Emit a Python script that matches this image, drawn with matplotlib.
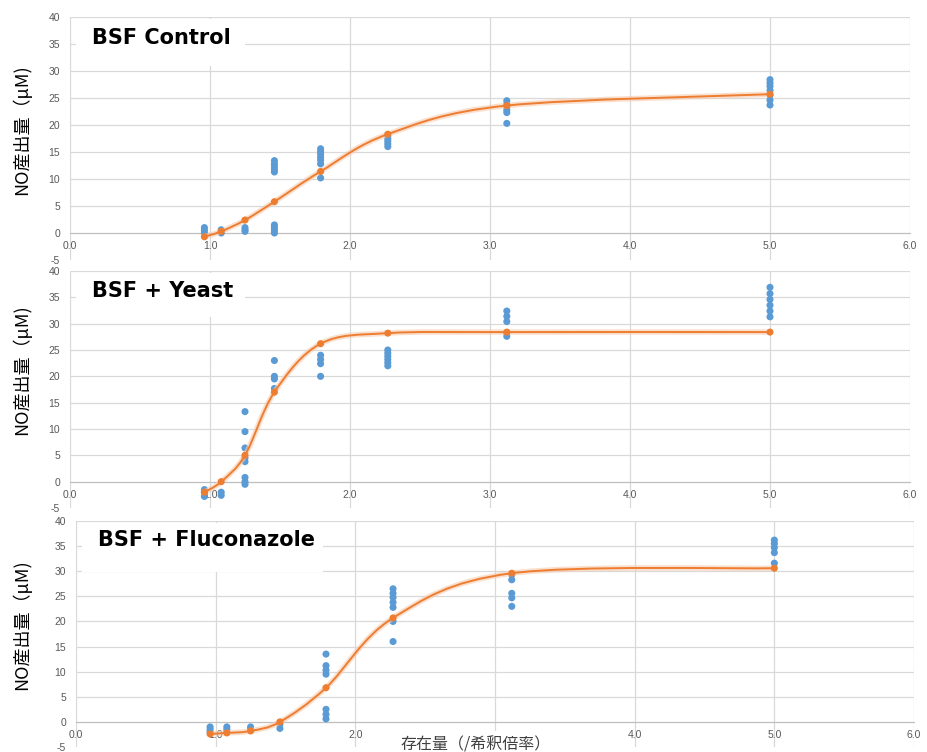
import numpy as np
import matplotlib
matplotlib.use("Agg")
import matplotlib.pyplot as plt
from matplotlib.path import Path
from matplotlib.patches import PathPatch, Rectangle

plt.rcParams['font.family'] = ['Noto Sans CJK JP', 'DejaVu Sans']

# --- data ----------------------------------------------------------------
x_vals = [0.96, 1.08, 1.25, 1.46, 1.79, 2.27, 3.12, 5.0]

titles = ["BSF Control", "BSF + Yeast", "BSF + Fluconazole"]

ctrl_pts = [[0.0, 0.5, 1.0],
            [0.0, 0.3, 0.6],
            [0.3, 0.6, 1.0],
            [0.0, 0.5, 1.0, 1.5, 11.3, 11.8, 12.3, 12.8, 13.4],
            [10.2, 12.8, 13.5, 14.0, 14.6, 15.1, 15.6],
            [16.0, 16.5, 17.0, 17.5, 18.0],
            [20.3, 22.3, 22.8, 23.4, 23.9, 24.5],
            [23.7, 24.6, 25.5, 26.4, 27.2, 27.8, 28.4]]
ctrl_fit = [-0.7, 0.3, 2.4, 5.8, 11.4, 18.3, 23.6, 25.7]

yeast_pts = [[-1.5, -2.0, -2.8],
             [-2.0, -2.6],
             [-0.5, 0.0, 0.8, 3.8, 4.5, 6.4, 9.5, 13.3],
             [17.7, 19.5, 20.0, 23.0],
             [20.0, 22.4, 23.2, 24.0],
             [22.0, 22.6, 23.2, 23.8, 24.4, 25.0],
             [27.6, 28.2, 30.4, 31.4, 32.4],
             [31.3, 32.4, 33.5, 34.6, 35.7, 36.9]]
yeast_fit = [-2.0, 0.0, 5.0, 17.0, 26.2, 28.2, 28.4, 28.4]

fluc_pts = [[-1.0, -1.5, -2.0],
            [-1.0, -1.5, -2.0],
            [-1.0, -1.4],
            [-0.5, -1.3],
            [0.6, 1.5, 2.5, 9.5, 10.3, 11.2, 13.5],
            [16.0, 20.0, 22.8, 23.8, 24.8, 25.6, 26.5],
            [23.0, 24.7, 25.6, 28.3, 29.3],
            [31.6, 33.7, 34.7, 35.5, 36.2]]
fluc_fit = [-2.4, -2.2, -1.8, 0.0, 6.8, 20.7, 29.6, 30.6]

all_pts = [ctrl_pts, yeast_pts, fluc_pts]
all_fit = [ctrl_fit, yeast_fit, fluc_fit]

x_ticks = [0, 1, 2, 3, 4, 5, 6]
y_ticks = [-5, 0, 5, 10, 15, 20, 25, 30, 35, 40]

BLUE = '#5b9bd5'
ORANGE = '#ed7d31'
GRID = '#d9d9d9'
TXT = '#595959'


def smooth_path(xs, ys):
    # Excel-like smoothed line (Catmull-Rom as cubic Bezier)
    pts = list(zip(xs, ys))
    verts = [pts[0]]
    codes = [Path.MOVETO]
    n = len(pts)
    for i in range(n - 1):
        p0 = pts[i - 1] if i > 0 else pts[i]
        p1 = pts[i]
        p2 = pts[i + 1]
        p3 = pts[i + 2] if i + 2 < n else pts[i + 1]
        c1 = (p1[0] + (p2[0] - p0[0]) / 6, p1[1] + (p2[1] - p0[1]) / 6)
        c2 = (p2[0] - (p3[0] - p1[0]) / 6, p2[1] - (p3[1] - p1[1]) / 6)
        verts += [c1, c2, p2]
        codes += [Path.CURVE4] * 3
    return Path(verts, codes)


W, H = 928, 752
# panel boxes in pixels: left, right, top, bottom
boxes = [(70, 910, 17, 260), (70, 910, 271, 508), (76, 914, 521, 747)]
title_box_right = [1.25, 1.25, 1.77]   # in data x
title_box_bottom = [31.0, 31.3, 29.8]  # in data y
ylab_pos = [0.535, 0.585, 0.54]

fig = plt.figure(figsize=(W / 100, H / 100), dpi=100)

for k in range(3):
    l, r, t, b = boxes[k]
    ax = fig.add_axes([l / W, 1 - b / H, (r - l) / W, (b - t) / H])
    ax.set_xlim(0, 6)
    ax.set_ylim(-5, 40)
    ax.set_xticks(x_ticks)
    ax.set_yticks(y_ticks)
    xlabs = ["%.1f" % v for v in x_ticks]
    if k == 2:
        xlabs[3] = ""   # hidden under the axis title in the original
    ax.set_xticklabels(xlabs)
    ax.set_yticklabels([str(v) for v in y_ticks])
    ax.grid(True, color=GRID, lw=0.9)
    ax.set_axisbelow(True)
    ax.get_ygridlines()[0].set_visible(False)
    for s in ['left', 'top', 'right']:
        ax.spines[s].set_visible(False)
    ax.spines['bottom'].set_position(('data', 0))
    ax.spines['bottom'].set_color('#bfbfbf')
    ax.tick_params(length=0, labelsize=7.5, labelcolor=TXT)
    ax.tick_params(axis='x', pad=6)
    ax.tick_params(axis='y', pad=7)
    for lab in ax.get_xticklabels() + ax.get_yticklabels():
        lab.set_family(['Liberation Sans', 'DejaVu Sans'])

    # white box behind the panel title
    ax.add_patch(Rectangle((0.04, title_box_bottom[k]), title_box_right[k] - 0.04,
                           39.7 - title_box_bottom[k], facecolor='white',
                           edgecolor='none', zorder=1.5))
    ax.text(0.16, 36.2, titles[k], fontsize=15, fontweight='bold',
            family=['DejaVu Sans'], va='center', ha='left', color='black',
            zorder=2)

    # individual measurements
    for xv, ys in zip(x_vals, all_pts[k]):
        ax.scatter([xv] * len(ys), ys, s=26, color=BLUE, edgecolors='none',
                   zorder=3)

    # smoothed fit line with soft glow
    p = smooth_path(x_vals, all_fit[k])
    ax.add_patch(PathPatch(p, facecolor='none', edgecolor='#f8cbad', lw=4,
                           alpha=0.6, zorder=3.5))
    ax.add_patch(PathPatch(p, facecolor='none', edgecolor=ORANGE, lw=1.4,
                           zorder=4))
    ax.scatter(x_vals, all_fit[k], s=26, color=ORANGE, edgecolors='none',
               zorder=5)

    ax.set_ylabel("NO産出量（μM)", fontsize=13, color='black')
    ax.yaxis.set_label_coords((31 - l) / (r - l), ylab_pos[k])

fig.text(476 / W, 1 - 745 / H, "存在量（/希釈倍率）", fontsize=11.5,
         color='#404040', ha='center', va='center',
         bbox=dict(facecolor='white', edgecolor='none', pad=4))

fig.savefig("out.png", dpi=100)
